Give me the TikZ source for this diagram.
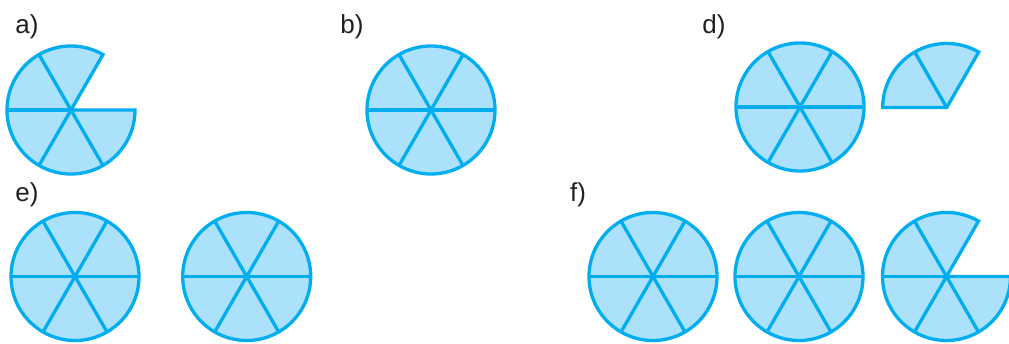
\documentclass[tikz,border=0pt]{standalone}
\usepackage{fontspec}
\setmainfont{Liberation Sans}
\usepackage{xcolor}
\usepackage{tikz}
\usetikzlibrary{positioning}

\definecolor{rimcyan}{HTML}{00AEEF}
\definecolor{slicefill}{HTML}{ABE1FA}
\definecolor{labelgray}{HTML}{231F20}

\begin{document}
\begin{tikzpicture}[
    x=1pt, y=1pt,
    slice/.style = {draw=rimcyan, fill=slicefill, line width=3.3pt,
                    line join=miter},
    cut/.style   = {draw=rimcyan, line width=3.3pt},
    tag/.style   = {text=labelgray, inner sep=0pt,
                    font=\fontsize{26}{26}\selectfont}
  ]
  \useasboundingbox (0,0) rectangle (1009,343);
  \def\rad{64}

  % ----------------------------------------------------------------
  % Labels
  % ----------------------------------------------------------------
  \node[tag] (lbla) at (27, 316.5) {a)};
  \node[tag] (lblb) at (352, 316.5) {b)};
  \node[tag] (lbld) at (714, 316.5) {d)};
  \node[tag] (lble) at (27, 148) {e)};
  \node[tag] (lblf) at (578, 148) {f)};

  % ----------------------------------------------------------------
  % Whole circles, cut into six
  % ----------------------------------------------------------------
  \foreach \n/\xx/\yy in {b/431/233, d/800/236, e1/75/66.5, e2/246.7/66.5,
                           f1/653/66.5, f2/799/66.5}{
    \coordinate (\n) at (\xx, \yy);
    \filldraw[slice] (\n) circle[radius=\rad];
    \foreach \a in {0,60,...,300}
      \draw[cut] (\n) -- ++(\a:\rad);
  }

  % ----------------------------------------------------------------
  % Five sixths (a and last of f): slice 0..60 missing
  % ----------------------------------------------------------------
  \foreach \n/\xx/\yy in {a/71/233, f3/946.5/66.5}{
    \coordinate (\n) at (\xx, \yy);
    \filldraw[slice] (\n) -- ++(0:\rad)
      arc[start angle=0, end angle=-300, radius=\rad] -- cycle;
    \foreach \a in {120,180,240,300}
      \draw[cut] (\n) -- ++(\a:\rad);
  }

  % two sixths beside d
  \coordinate (d2) at (946.7, 235.5);
  \filldraw[slice] (d2) -- ++(60:\rad)
    arc[start angle=60, end angle=180, radius=\rad] -- cycle;
  \draw[cut] (d2) -- ++(120:\rad);

\end{tikzpicture}
\end{document}
